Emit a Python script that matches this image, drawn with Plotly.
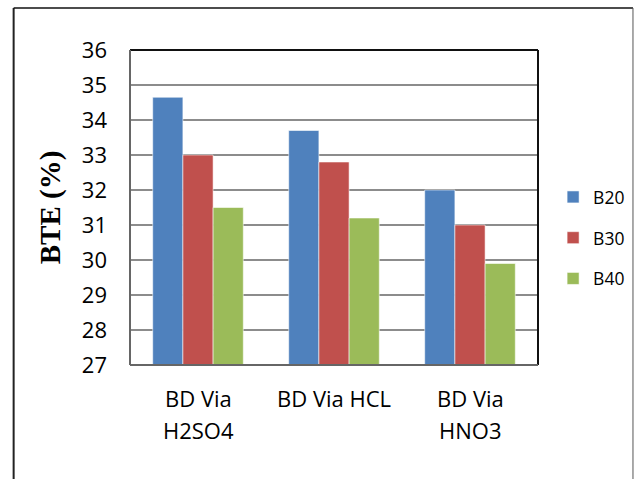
import plotly.graph_objects as go

# Brake thermal efficiency of biodiesel blends by production route
categories = ["BD Via H2SO4", "BD Via HCL", "BD Via HNO3"]
category_lines = [["BD Via", "H2SO4"], ["BD Via HCL"], ["BD Via", "HNO3"]]
b20 = [34.65, 33.7, 32.0]
b30 = [33.0, 32.8, 31.0]
b40 = [31.5, 31.2, 29.9]
series_names = ["B20", "B30", "B40"]
series_colors = ["#4F81BD", "#C0504D", "#9BBB59"]
y_ticks = [27, 28, 29, 30, 31, 32, 33, 34, 35, 36]

fig = go.Figure()
for name, vals, col in zip(series_names, [b20, b30, b40], series_colors):
    fig.add_trace(go.Bar(
        x=categories, y=vals, name=name, legendgroup=name,
        marker=dict(color=col, line=dict(color="rgba(255,255,255,0.55)", width=1)),
    ))

tick_font = dict(family="Open Sans", size=22, color="#000000")

# two-line category labels placed under each group
annotations = []
line_y = [-0.104, -0.207]
for cat, lines in zip(categories, category_lines):
    for i, txt in enumerate(lines):
        annotations.append(dict(
            x=cat, xref="x", y=line_y[i], yref="paper",
            text=txt, showarrow=False, font=tick_font,
            xanchor="center", yanchor="middle",
        ))

# outer frame and plot-area border
shapes = [
    dict(type="line", xref="paper", yref="paper", x0=-0.2852, x1=-0.2852, y0=1.1333, y1=-0.40,
         line=dict(color="#222222", width=2)),
    dict(type="line", xref="paper", yref="paper", x0=-0.2852, x1=1.2328, y0=1.1333, y1=1.1333,
         line=dict(color="#111111", width=1.5)),
    dict(type="line", xref="paper", yref="paper", x0=1.2328, x1=1.2328, y0=1.1333, y1=-0.40,
         line=dict(color="#555555", width=1)),
    dict(type="line", xref="paper", yref="paper", x0=0, x1=1, y0=1, y1=1,
         line=dict(color="#111111", width=2)),
    dict(type="line", xref="paper", yref="paper", x0=1, x1=1, y0=1, y1=0,
         line=dict(color="#111111", width=2)),
    dict(type="line", xref="paper", yref="paper", x0=0, x1=0, y0=1, y1=0,
         line=dict(color="#666666", width=2)),
    dict(type="line", xref="paper", yref="paper", x0=0, x1=1, y0=0, y1=0,
         line=dict(color="#666666", width=2)),
]

fig.update_layout(
    width=642, height=479,
    margin=dict(l=130, r=98, t=50, b=114),
    paper_bgcolor="white", plot_bgcolor="white",
    barmode="group", bargap=0.334, bargroupgap=0,
    showlegend=True,
    legend=dict(
        x=1.037, y=0.403, xanchor="left", yanchor="middle",
        font=dict(family="Open Sans", size=17.5, color="#000000"),
        traceorder="grouped", tracegroupgap=15, itemwidth=30,
        bgcolor="rgba(0,0,0,0)",
    ),
    xaxis=dict(
        type="category", showticklabels=False, showgrid=False,
        showline=False, ticks="", range=[-0.5, 2.5],
    ),
    yaxis=dict(
        range=[27, 36], tickvals=y_ticks, tickfont=tick_font,
        showgrid=True, gridcolor="#8c8c8c", gridwidth=1.5,
        zeroline=False, showline=False, ticks="", ticklabelstandoff=22,
        title=dict(text="BTE (%)",
                   font=dict(family="Liberation Serif", size=29, color="#000000", weight="bold"),
                   standoff=12),
    ),
    annotations=annotations,
    shapes=shapes,
)

fig.write_html("out.html")
